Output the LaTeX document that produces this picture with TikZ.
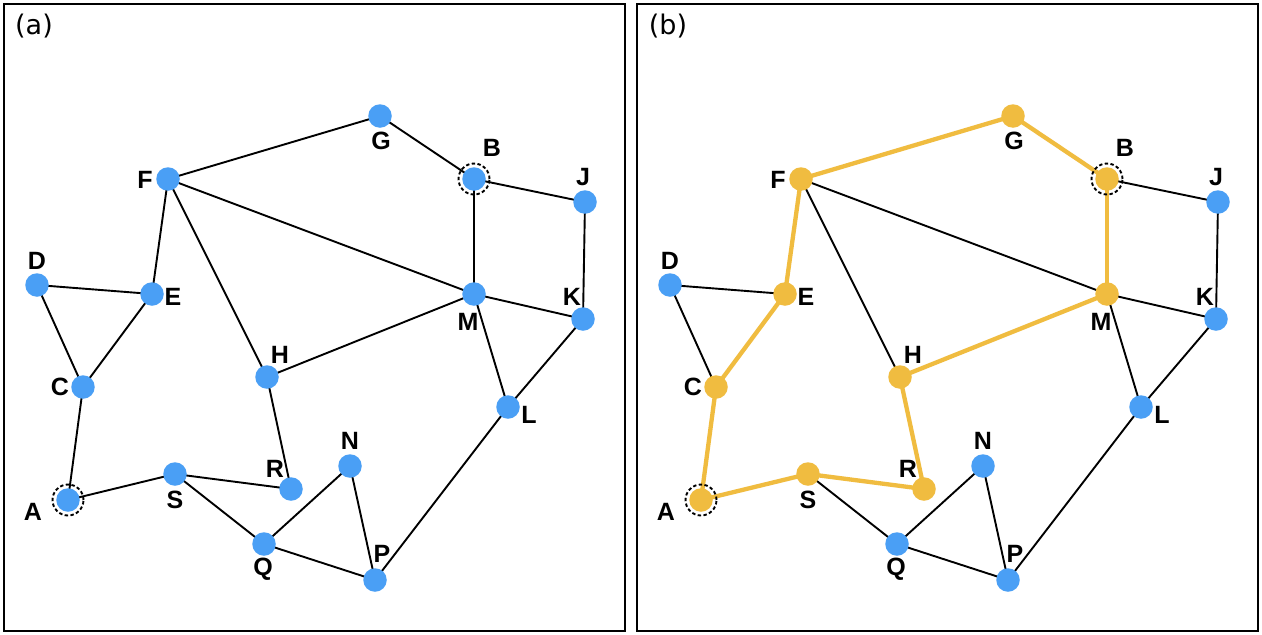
\documentclass[tikz,border=0pt]{standalone}
\usepackage{fontspec}
\setmainfont{Liberation Sans}
\newfontfamily\panelfont{DejaVu Sans}
\pgfdeclarelayer{bg}
\pgfsetlayers{bg,main}
\definecolor{nodeblue}{HTML}{4A9FF5}
\definecolor{nodeorange}{HTML}{F0BC40}
\begin{document}
\begin{tikzpicture}[x=1pt,y=-1pt,
  vtx/.style={circle, fill=nodeblue, minimum size=23.5pt, inner sep=0pt},
  hvtx/.style={circle, fill=nodeorange, minimum size=23.5pt, inner sep=0pt},
  ring/.style={circle, draw=black, dash pattern=on 3.4pt off 2.4pt, line width=1.9pt, minimum size=31pt, inner sep=0pt},
  lbl/.style={font=\bfseries\fontsize{25}{25}\selectfont, inner sep=0pt},
  edge/.style={line width=1.9pt, black},
  hedge/.style={line width=4.3pt, nodeorange, line cap=round},
  panel/.style={draw=black, line width=2.6pt},
  plabel/.style={font=\panelfont\fontsize{27}{27}\selectfont, inner sep=0pt}]
\useasboundingbox (0,0) rectangle (1262,635);
% panels
\node[panel, minimum width=621pt, minimum height=627pt, inner sep=0pt] (pa) at (314.5,317.5) {};
\node[panel, minimum width=621pt, minimum height=627pt, inner sep=0pt] (pb) at (947.5,317.5) {};
\node[plabel] (ta) at (34,26) {(a)};
\node[plabel] (tb) at (668,26) {(b)};
% panel (a) vertices
\foreach \n/\x/\y/\lx/\ly in {G/380/116/381/141, B/474/179/492/148, J/585/202/583/177,
  F/168/179/145/180, D/37/285/37/261, E/152/294/173/297, M/474/294/468/322,
  K/583/319/572/297, C/83/387/60/387, H/267/377/280/355, L/508/407/529/415,
  N/350/466/350/441, R/291/489/275/469, A/68/500/33/512, S/175/474/175/500,
  Q/264/544/263/569, P/375/580/382/554}{
  \node[vtx] (a\n) at (\x,\y) {};
  \node[lbl] (la\n) at (\lx,\ly) {\n};
}
% panel (b) vertices
\foreach \n/\x/\y/\lx/\ly in {G/380/116/381/141, B/474/179/492/148,
  F/168/179/145/180, E/152/294/173/297, M/474/294/468/322,
  C/83/387/60/387, H/267/377/280/355, R/291/489/275/469, A/68/500/33/512, S/175/474/175/500}{
  \node[hvtx] (b\n) at (\x+633,\y) {};
  \node[lbl] (lb\n) at (\lx+633,\ly) {\n};
}
\foreach \n/\x/\y/\lx/\ly in {J/585/202/583/177, D/37/285/37/261,
  K/583/319/572/297, L/508/407/529/415, N/350/466/350/441,
  Q/264/544/263/569, P/375/580/382/554}{
  \node[vtx] (b\n) at (\x+633,\y) {};
  \node[lbl] (lb\n) at (\lx+633,\ly) {\n};
}
% start rings
\node[ring] (raA) at (aA) {};
\node[ring] (raB) at (aB) {};
\node[ring] (rbA) at (bA) {};
\node[ring] (rbB) at (bB) {};
% edges
\begin{pgfonlayer}{bg}
\fill[white] (0,0) rectangle (1262,635);
\foreach \p in {a,b}{
  \foreach \u/\v in {F/G, G/B, B/J, J/K, B/M, F/M, F/E, F/H, D/E, D/C, E/C, C/A,
    A/S, S/R, S/Q, H/R, H/M, M/K, M/L, L/K, L/P, N/Q, N/P, Q/P}{
    \draw[edge] (\p\u.center) -- (\p\v.center);
  }
}
\foreach \u/\v in {A/S, S/R, R/H, H/M, M/B, B/G, G/F, F/E, E/C, C/A}{
  \draw[hedge] (b\u.center) -- (b\v.center);
}
\end{pgfonlayer}
\end{tikzpicture}
\end{document}
